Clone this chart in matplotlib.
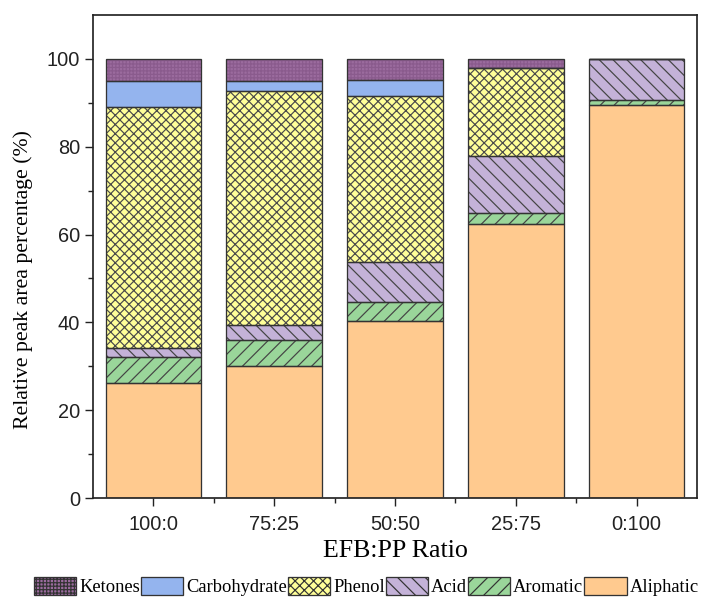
import matplotlib
matplotlib.use("Agg")
import matplotlib.pyplot as plt
import numpy as np
from matplotlib.patches import Patch

ratios = ["100:0", "75:25", "50:50", "25:75", "0:100"]

aliphatic = [26.1, 30.1, 40.4, 62.5, 89.5]
aromatic = [5.9, 5.8, 4.2, 2.3, 1.2]
acid = [2.2, 3.5, 9.2, 13.0, 9.3]
phenol = [54.9, 53.4, 37.8, 20.1, 0.0]
carbohydrate = [5.8, 2.1, 3.5, 0.0, 0.0]
ketones = [5.1, 5.1, 4.9, 2.1, 0.0]

# Rendering resolution; hatch spacing in matplotlib scales with dpi
DPI = 83


def px(v):
    """Convert a pixel size into points at the chosen dpi."""
    return v * 72.0 / DPI


series = [
    ("Aliphatic", aliphatic, "#ffca8f", "", "#555555"),
    ("Aromatic", aromatic, "#9ad69a", "//", "#444444"),
    ("Acid", acid, "#c4b2d8", "\\\\", "#444444"),
    ("Phenol", phenol, "#ffff99", "xxx", "#4a4a4a"),
    ("Carbohydrate", carbohydrate, "#94b4ee", "", "#555555"),
    ("Ketones", ketones, "#9b6b9e", "++++", "#8a5b8d"),
]

plt.rcParams["hatch.linewidth"] = px(1.2)
plt.rcParams["font.family"] = "Liberation Sans"

fig = plt.figure(figsize=(711 / DPI, 600 / DPI), dpi=DPI)
ax = fig.add_axes([93 / 711, 1 - 498 / 600, (697 - 93) / 711, (498 - 15) / 600])

x = np.arange(len(ratios))
width = 0.79
bottom = np.zeros(len(ratios))
handles = {}
for name, vals, color, hatch, hcolor in series:
    vals = np.array(vals)
    ax.bar(x, vals, width, bottom=bottom, color=color, hatch=hatch,
           edgecolor=hcolor, linewidth=0, zorder=2)
    ax.bar(x, vals, width, bottom=bottom, fill=False,
           edgecolor="#333333", linewidth=px(1.3), zorder=3)
    handles[name] = Patch(facecolor=color, hatch=hatch, edgecolor="#333333",
                          linewidth=px(1.3))
    bottom += vals

ax.set_xlim(-0.5, 4.5)
ax.set_ylim(0, 110)
ax.set_yticks([0, 20, 40, 60, 80, 100])
ax.set_yticks([10, 30, 50, 70, 90], minor=True)
ax.set_xticks(x)
ax.set_xticklabels(ratios)
ax.set_xticks(x[:-1] + 0.5, minor=True)

ax.tick_params(axis="both", which="major", direction="out", length=px(8),
               width=px(1.4), labelsize=px(20), colors="#222222")
ax.tick_params(axis="both", which="minor", direction="out", length=px(5),
               width=px(1.4), colors="#222222")
ax.tick_params(axis="y", pad=px(5))
ax.tick_params(axis="x", pad=px(9))
for sp in ax.spines.values():
    sp.set_linewidth(px(1.7))
    sp.set_color("#222222")

ax.set_ylabel("Relative peak area percentage (%)", family="Liberation Serif",
              fontsize=px(21.8))
ax.yaxis.set_label_coords(-0.1, 0.453)
ax.set_xlabel("EFB:PP Ratio", family="Liberation Serif", fontsize=px(26),
              labelpad=px(6))

order = ["Ketones", "Carbohydrate", "Phenol", "Acid", "Aromatic", "Aliphatic"]
fig.legend([handles[n] for n in order], order, loc="center",
           bbox_to_anchor=(0.515, 0.022), ncol=6, frameon=False,
           prop={"family": "Liberation Serif", "size": px(18.5)},
           handlelength=2.3, handleheight=1.05, handletextpad=0.15,
           columnspacing=0.05, borderpad=0.1)

fig.savefig("out.png", dpi=DPI)
